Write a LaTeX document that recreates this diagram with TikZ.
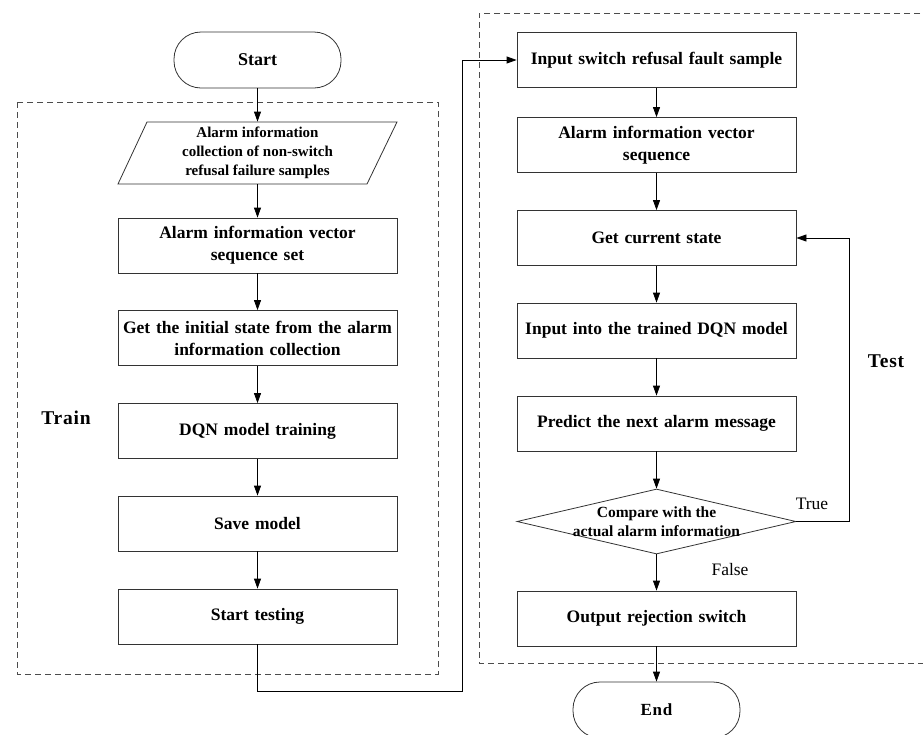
\documentclass[tikz,border=0pt]{standalone}
\usepackage{fontspec}
\setmainfont{Liberation Serif}
\newfontfamily\monof[LetterSpace=4]{Liberation Serif}
\usetikzlibrary{arrows.meta,shapes.geometric}
\begin{document}
\begin{tikzpicture}[x=1pt,y=-1pt,
  line width=0.8pt,
  arr/.style={draw=black,-{Triangle[length=10pt,width=7pt]}},
  procbox/.style={draw=black!80,rectangle,minimum width=279pt,minimum height=55pt,inner sep=0pt,
     text width=277pt,align=center,font=\bfseries\fontsize{17.5}{22}\selectfont},
  term/.style={draw=black!80,rectangle,rounded corners=27pt,minimum width=167pt,minimum height=56pt,inner sep=0pt},
  grp/.style={draw=black!70,dashed,dash pattern=on 6pt off 4pt},
  lbl/.style={font=\monof\bfseries\fontsize{19.5}{22}\selectfont},
  yn/.style={font=\fontsize{17.5}{20}\selectfont}]
\useasboundingbox (0,0) rectangle (923,734);

% group frames
\draw[grp] (17,102) rectangle (438,674);
\draw[grp] (930,13) -- (479,13) -- (479,663) -- (930,663);
\node[lbl] (train) at (66,418) {Train};
\node[lbl] (test) at (886,361) {Test};

% left column
\node[term,font=\bfseries\fontsize{18}{20}\selectfont] (start) at (257.5,60) {Start};
\node[minimum width=250pt,minimum height=62pt,inner sep=0pt,align=center,
      font=\bfseries\fontsize{15}{19}\selectfont] (par) at (257.5,153)
      {Alarm information\\collection of non-switch\\refusal failure samples};
\draw[draw=black!80] (147,122) -- (397,122) -- (367,184) -- (118,184) -- cycle;
\node[procbox] (b2) at (257.5,245.5) {Alarm information vector\\sequence set};
\node[procbox] (b3) at (257.5,338) {Get the initial state from the alarm\\information collection};
\node[procbox] (b4) at (257.5,431) {DQN model training};
\node[procbox] (b5) at (257.5,523.5) {Save model};
\node[procbox] (b6) at (257.5,616.5) {Start testing};

\draw[arr] (start) -- (par);
\draw[arr] (par) -- (b2);
\draw[arr] (b2) -- (b3);
\draw[arr] (b3) -- (b4);
\draw[arr] (b4) -- (b5);
\draw[arr] (b5) -- (b6);

% right column
\node[procbox] (r1) at (656.5,60) {Input switch refusal fault sample};
\node[procbox] (r2) at (656.5,145) {Alarm information vector\\sequence};
\node[procbox] (r3) at (656.5,238) {Get current state};
\node[procbox] (r4) at (656.5,330.5) {Input into the trained DQN model};
\node[procbox] (r5) at (656.5,423.5) {Predict the next alarm message};
\node[draw=black!80,diamond,minimum width=279pt,minimum height=65pt,inner sep=0pt] (dia) at (656.5,521.5) {};
\node[align=center,font=\bfseries\fontsize{15.5}{19}\selectfont] (diatext) at (656.5,521.5)
      {Compare with the\\actual alarm information};
\node[procbox] (r6) at (656.5,618.5) {Output rejection switch};
\node[term,font=\monof\bfseries\fontsize{17}{20}\selectfont] (stop) at (656.5,710) {End};

\draw[arr] (r1) -- (r2);
\draw[arr] (r2) -- (r3);
\draw[arr] (r3) -- (r4);
\draw[arr] (r4) -- (r5);
\draw[arr] (r5) -- (dia);
\draw[arr] (dia) -- (r6);
\draw[arr] (r6) -- (stop);

% cross connector
\coordinate (c1) at (257.5,691);
\coordinate (c2) at (462,691);
\draw[arr] (b6.south) -- (c1) -- (c2) |- (r1.west);

% true loop
\coordinate (t1) at (849,521.5);
\draw[arr] (dia.east) -- (t1) |- (r3.east);
\node[yn] (true) at (812,504) {True};
\node[yn] (false) at (730,570) {False};
\end{tikzpicture}
\end{document}
